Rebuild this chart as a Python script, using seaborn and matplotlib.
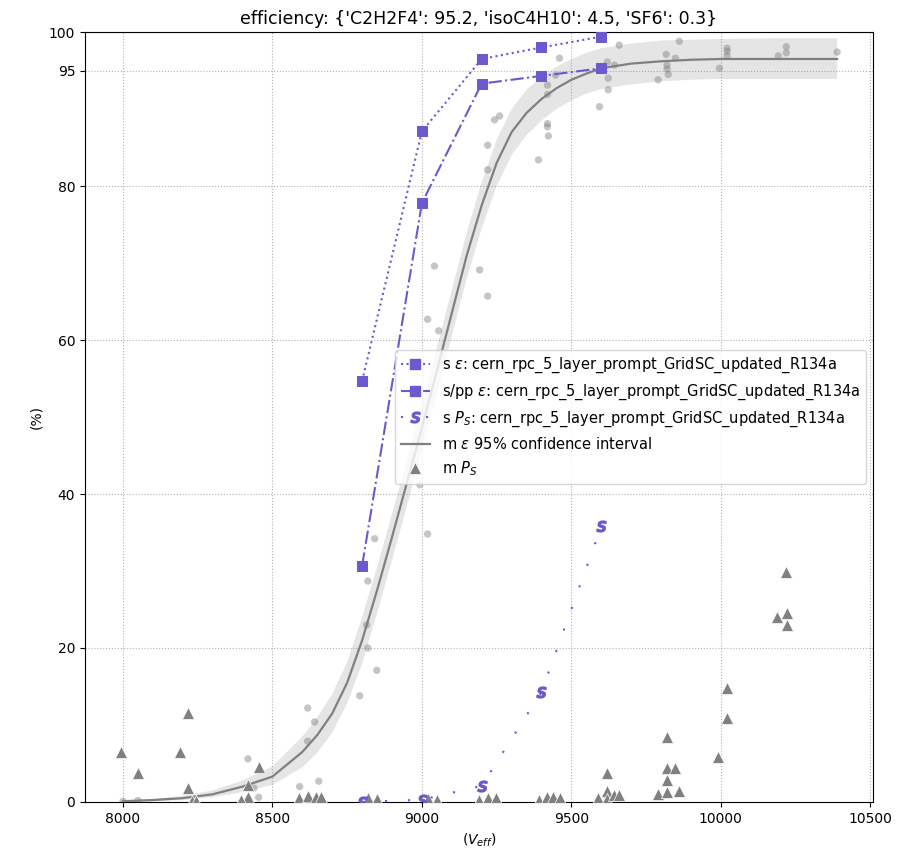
import numpy as np
import pandas as pd
import matplotlib
matplotlib.use("Agg")
import matplotlib.pyplot as plt
import seaborn as sns
from matplotlib.lines import Line2D

# ---------------- data ----------------
title = "efficiency: {'C2H2F4': 95.2, 'isoC4H10': 4.5, 'SF6': 0.3}"

# simulated series (purple)
s_hv = [8800, 9000, 9200, 9400, 9600]
s_eff = [54.7, 87.1, 96.5, 98.0, 99.4]
spp_eff = [30.7, 77.8, 93.3, 94.3, 95.3]
s_ps = [0.0, 0.3, 2.1, 14.3, 35.8]

# measured efficiency points (grey circles)
m_hv = [8000, 8050, 8418, 8438, 8454, 8591, 8618, 8618, 8641, 8655, 8792,
        8815, 8819, 8819, 8842, 8849, 8993, 9019, 9019, 9042, 9056, 9193,
        9220, 9220, 9220, 9243, 9260, 9390, 9420, 9420, 9420, 9420, 9423,
        9447, 9460, 9594, 9620, 9623, 9623, 9644, 9660, 9790, 9817, 9820,
        9820, 9824, 9848, 9861, 9995, 10021, 10021, 10021, 10192, 10219,
        10219, 10389]
m_eff = [0.1, 0.2, 5.6, 1.8, 0.6, 2.0, 12.2, 7.9, 10.4, 2.7, 13.8,
         23.0, 28.7, 20.0, 34.2, 17.1, 41.2, 62.7, 34.8, 69.6, 61.2, 69.1,
         65.7, 82.1, 85.3, 88.6, 89.1, 83.4, 93.1, 91.9, 88.1, 87.7, 86.5,
         94.4, 96.6, 90.3, 96.1, 94.0, 92.5, 95.7, 98.3, 93.8, 97.1, 95.7,
         95.2, 94.5, 96.6, 98.8, 95.3, 97.9, 97.5, 96.9, 96.9, 98.1,
         97.3, 97.4]

fit_hv = [8000, 8100, 8200, 8300, 8400, 8500, 8600, 8650, 8700, 8750, 8800,
          8850, 8900, 8950, 9000, 9050, 9100, 9150, 9200, 9250, 9300, 9350,
          9400, 9450, 9500, 9550, 9600, 9700, 9800, 9900, 10000, 10200, 10389]
fit_eff = [0.1, 0.25, 0.5, 1.0, 2.0, 3.3, 6.5, 8.7, 11.5, 15.5, 21.0,
           27.5, 34.4, 41.5, 48.6, 56.0, 63.5, 71.0, 77.5, 83.0, 87.0, 89.5,
           91.3, 92.7, 93.8, 94.6, 95.3, 95.9, 96.2, 96.4, 96.5, 96.5, 96.5]
fit_lo = [0.0, 0.1, 0.25, 0.6, 1.3, 2.2, 4.5, 6.4, 9.0, 12.8, 18.0,
          24.5, 31.4, 38.5, 45.6, 53.0, 60.5, 68.0, 74.5, 80.0, 84.0, 86.6,
          88.5, 90.0, 91.1, 92.0, 92.6, 93.2, 93.6, 93.8, 93.9, 93.9, 93.9]
fit_hi = [0.2, 0.4, 0.8, 1.5, 2.8, 4.6, 8.5, 11.0, 14.0, 18.2, 24.0,
          30.5, 37.4, 44.5, 51.6, 59.0, 66.5, 74.0, 80.5, 86.0, 90.0, 92.5,
          94.2, 95.5, 96.5, 97.3, 97.9, 98.5, 98.9, 99.0, 99.1, 99.2, 99.2]

# measured streamer probability (grey triangles)
mps_hv = [7993, 8050, 8217, 8190, 8217, 8230, 8245, 8454, 8418, 8418, 8394,
          8588, 8618, 8645, 8661, 8818, 8851, 9019, 9052, 9190, 9220, 9247,
          9390, 9420, 9440, 9463, 9590, 9620, 9620, 9620, 9641, 9658, 9791,
          9820, 9820, 9847, 9820, 9861, 9820, 9991, 10021, 10021, 10188,
          10219, 10222, 10222]
mps_val = [6.5, 3.8, 11.6, 6.5, 1.8, 0.1, 0.1, 4.5, 2.2, 0.6, 0.3,
           0.5, 0.8, 0.6, 0.6, 0.5, 0.4, 0.4, 0.3, 0.3, 0.5, 0.5,
           0.3, 0.6, 0.6, 0.5, 0.5, 3.7, 1.4, 0.4, 0.9, 0.9, 1.0,
           8.4, 4.4, 4.4, 2.8, 1.4, 1.3, 5.8, 14.8, 10.9, 24.0,
           29.9, 24.5, 23.0]

yticks = [0, 20, 40, 60, 80, 95, 100]
xticks = [8000, 8500, 9000, 9500, 10000, 10500]

purple = "#6a5acd"
grey = "gray"

# ---------------- plot ----------------
fig = plt.figure(figsize=(9.18, 8.52), dpi=100)
ax = fig.add_axes([0.0926, 0.0587, 0.8584, 0.9037])

# measured efficiency points
sns.scatterplot(x=m_hv, y=m_eff, color=grey, alpha=0.45, s=28,
                edgecolor="none", ax=ax, legend=False, zorder=2)

# fit curve + band
ax.fill_between(fit_hv, fit_lo, fit_hi, color=grey, alpha=0.2,
                edgecolor="none", linewidth=0, zorder=1)
sns.lineplot(x=fit_hv, y=fit_eff, color=grey, linewidth=1.6, ax=ax,
             legend=False, zorder=3)

# measured streamer probability
sns.scatterplot(x=mps_hv, y=mps_val, color=grey, marker="^", s=75,
                edgecolor="white", linewidth=0.5, ax=ax, legend=False,
                zorder=3)

# simulated series
sns.lineplot(x=s_hv, y=s_eff, color=purple, linestyle=":", linewidth=1.5,
             marker="s", markersize=6.5, markeredgecolor=purple, ax=ax,
             legend=False, zorder=4)
sns.lineplot(x=s_hv, y=spp_eff, color=purple, linestyle="-.", linewidth=1.5,
             marker="s", markersize=6.5, markeredgecolor=purple, ax=ax,
             legend=False, zorder=4)
sns.lineplot(x=s_hv, y=s_ps, color=purple, linestyle=(0, (1, 10)),
             linewidth=1.5, marker="$s$", markersize=7.5,
             markeredgecolor=purple, markeredgewidth=1.3, ax=ax,
             legend=False, zorder=4)

ax.set_ylim(0, 100)
ax.set_xlim(7873, 10509)
ax.set_yticks(yticks)
ax.set_xticks(xticks)
ax.grid(True, linestyle=":", color="#b0b0b0", linewidth=0.8)
ax.set_axisbelow(True)
ax.set_title(title, fontsize=12.5)
ax.set_ylabel("(%)")
ax.set_xlabel("$(V_{eff})$")

handles = [
    Line2D([], [], color=purple, linestyle=":", linewidth=1.5, marker="s",
           markersize=6.5),
    Line2D([], [], color=purple, linestyle="-.", linewidth=1.5, marker="s",
           markersize=6.5),
    Line2D([], [], color=purple, linestyle=(0, (1, 5)), linewidth=1.5,
           marker="$s$", markersize=7.5, markeredgewidth=1.3),
    Line2D([], [], color=grey, linewidth=1.6),
    Line2D([], [], color=grey, linestyle="none", marker="^", markersize=8,
           markeredgecolor="white", markeredgewidth=0.5),
]
labels = [
    "s $\\varepsilon$: cern_rpc_5_layer_prompt_GridSC_updated_R134a",
    "s/pp $\\varepsilon$: cern_rpc_5_layer_prompt_GridSC_updated_R134a",
    "s $P_S$: cern_rpc_5_layer_prompt_GridSC_updated_R134a",
    "m $\\varepsilon$ 95% confidence interval",
    "m $P_S$",
]
ax.legend(handles, labels, loc="center right", fontsize=10.5)

fig.savefig("out.png", dpi=100)
